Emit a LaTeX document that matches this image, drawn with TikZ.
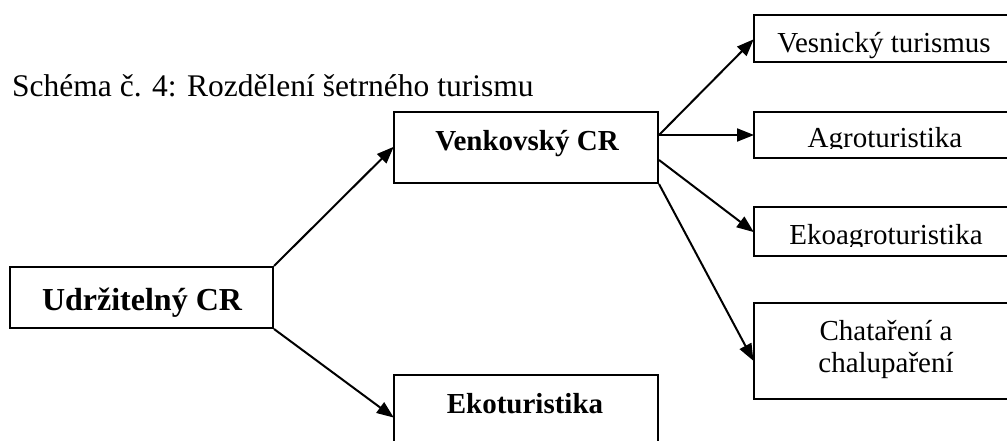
\documentclass[tikz,border=0pt]{standalone}
\usepackage{fontspec}
\setmainfont{Liberation Serif}
\usetikzlibrary{arrows.meta}
\tikzset{
  boxnode/.style={draw=black, line width=2pt, inner sep=0pt, minimum width=#1},
  lbl/.style={anchor=base, inner sep=0pt, font=\fontsize{29}{34}\selectfont},
  lblbig/.style={anchor=base, inner sep=0pt, font=\fontsize{32}{38}\selectfont},
  conn/.style={line width=2pt, -{Triangle[length=17pt,width=13pt]}, shorten >=-1pt}
}
\begin{document}
\begin{tikzpicture}[x=1pt,y=-1pt]
\useasboundingbox (0,0) rectangle (1007,441);
\clip (0,0) rectangle (1007,441);
\fill[white] (0,0) rectangle (1007,441);
% boxes
\node[boxnode=263pt, minimum height=61pt] (udr) at (141.5,297.5) {};
\node[boxnode=264pt, minimum height=71pt] (venk) at (526,147.5) {};
\node[boxnode=264pt, minimum height=84pt] (eko) at (526,417) {};
\node[boxnode=262pt, minimum height=47pt] (ves) at (885,38.5) {};
\node[boxnode=262pt, minimum height=46pt] (agro) at (885,135) {};
\node[boxnode=262pt, minimum height=49pt] (ekoagro) at (885,231.5) {};
\node[boxnode=262pt, minimum height=96pt] (chata) at (885,351) {};
% title
\node[lblbig, anchor=base west, font=\fontsize{31.5}{38}\selectfont] (title) at (12,97) {Schéma č. 4: Rozdělení šetrného turismu};
% labels
\node[lblbig] (tudr) at (142,310) {\bfseries Udržitelný CR};
\node[lbl] (tvenk) at (527,150) {\bfseries Venkovský CR};
\node[lbl] (teko) at (525,413) {\bfseries Ekoturistika};
\node[lbl] (tves) at (884,53) {Vesnický turismus};
\begin{scope}
\clip (754,112) rectangle (1007,149);
\node[lbl] (tagro) at (885,148) {Agroturistika};
\end{scope}
\begin{scope}
\clip (754,207) rectangle (1007,246);
\node[lbl] (tekoagro) at (886,244) {Ekoagroturistika};
\end{scope}
\node[lbl] (tchata1) at (886,340) {Chataření a};
\node[lbl] (tchata2) at (886,372) {chalupaření};
% connectors
\draw[conn] (udr.north east) -- (venk.west);
\draw[conn] (udr.south east) -- (eko.west);
\draw[conn] ([yshift=12.5pt]venk.east) -- ([yshift=-1.5pt]ves.west);
\draw[conn] ([yshift=12.5pt]venk.east) -- (agro.west);
\draw[conn] ([yshift=-12.5pt]venk.east) -- (ekoagro.west);
\draw[conn] (venk.south east) -- ([yshift=-9pt]chata.west);
\end{tikzpicture}
\end{document}
